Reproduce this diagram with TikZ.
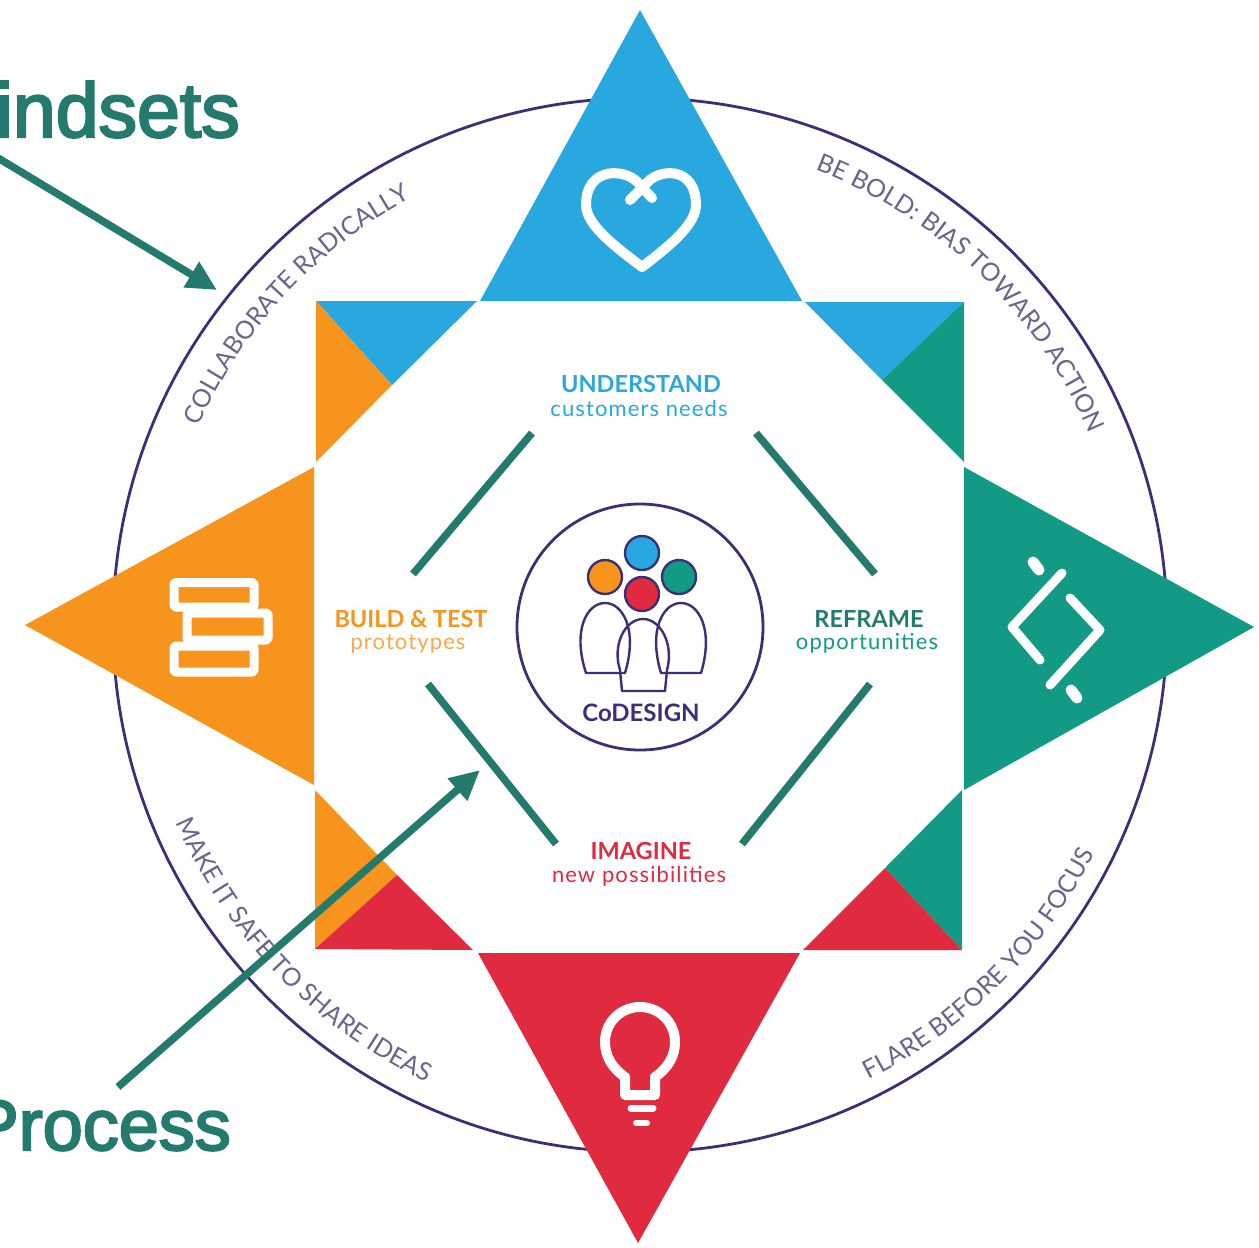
\documentclass[tikz,border=0pt]{standalone}
\usepackage{fontspec}
\usetikzlibrary{arrows.meta,decorations.text}
\setmainfont{Lato}
\newfontfamily\headfont[FakeBold=3]{Liberation Sans}
\newfontfamily\subfont[LetterSpace=5]{Lato}
\definecolor{cblue}{HTML}{29A8E0}
\definecolor{corange}{HTML}{F7941D}
\definecolor{cgreen}{HTML}{139A84}
\definecolor{cred}{HTML}{DF2A3F}
\definecolor{cnavy}{HTML}{3B3078}
\definecolor{cteal}{HTML}{237A6D}
\definecolor{carc}{HTML}{6A648F}
\newcommand{\arcfont}{\fontsize{25}{25}\selectfont\color{carc}}
\tikzset{
  x=1pt,y=-1pt,
  head/.style={text=cteal,font=\headfont\fontsize{77}{77}\selectfont,inner sep=0pt},
  titlelab/.style={font=\bfseries\fontsize{23.5}{23.5}\selectfont,inner sep=0pt},
  sublab/.style={font=\subfont\fontsize{22}{22}\selectfont,inner sep=0pt},
  barline/.style={cteal,line width=7.5pt},
  callout/.style={cteal,line width=7.5pt,-{Triangle[length=30pt,width=28pt]}},
  iconline/.style={white,line width=9pt,line cap=round,line join=round},
  personline/.style={cnavy,line width=2.4pt,line join=round},
  dot/.style={draw=cnavy,line width=2.4pt},
  arctext/.style={decorate,decoration={text along path,text align=center,text={#1}}}
}
\begin{document}
\begin{tikzpicture}
\useasboundingbox (0,0) rectangle (1259,1248);
\fill[white] (0,0) rectangle (1259,1248);
% outer ring
\draw[cnavy,line width=2.8pt] (640,625) circle (527);
% arc texts
\path[arctext={|\arcfont|COLLABORATE RADICALLY}] ([shift={(-175:484)}]640,625) arc[start angle=-175,end angle=-99,radius=484];
\path[arctext={|\arcfont|BE BOLD: BIAS TOWARD ACTION}] ([shift={(-90:488)}]640,625) arc[start angle=-90,end angle=-2,radius=488];
\path[arctext={|\arcfont|MAKE IT SAFE TO SHARE IDEAS}] ([shift={(-180:504)}]640,625) arc[start angle=-180,end angle=-268,radius=504];
\path[arctext={|\arcfont|FLARE BEFORE YOU FOCUS}] ([shift={(83:509)}]640,625) arc[start angle=83,end angle=7,radius=509];
% triangles
\fill[cblue] (640,10) -- (802,301) -- (480,301) -- cycle;
\fill[cgreen] (964,467) -- (1254,627) -- (964,790) -- cycle;
\fill[corange] (314,467) -- (25,625) -- (314,785) -- cycle;
\fill[cred] (478,953) -- (800,953) -- (638,1243) -- cycle;
% corners
\fill[cblue] (316,301) -- (477,301) -- (392,385) -- cycle;
\fill[corange] (316,301) -- (392,385) -- (316,462) -- cycle;
\fill[cblue] (805,302) -- (964,302) -- (882,380) -- cycle;
\fill[cgreen] (964,302) -- (964,462) -- (882,380) -- cycle;
\fill[corange] (315,790) -- (397,875) -- (315,949) -- cycle;
\fill[cred] (315,949) -- (397,875) -- (473,950) -- cycle;
\fill[cgreen] (962,790) -- (885,868) -- (962,950) -- cycle;
\fill[cred] (803,950) -- (885,868) -- (962,950) -- cycle;
% heart
\draw[iconline,line width=10pt] (652,198) -- (640,185) .. controls (628,168) and (586,165) .. (586,205) .. controls (586,226) and (620,250) .. (642,267);
\draw[iconline,line width=10pt] (630,200) -- (645,185) .. controls (657,168) and (696,165) .. (696,205) .. controls (696,226) and (664,250) .. (642,267);
% chevrons
\draw[iconline] (1062,573) -- (1012,627) -- (1040,660);
\draw[iconline] (1070,598) -- (1100,630) -- (1050,685);
\draw[iconline,line width=11pt] (1033,562) -- (1039,570);
\draw[iconline,line width=11pt] (1071,690) -- (1077,698);
% stacked bricks
\draw[iconline,line cap=butt,rounded corners=2pt] (174,582.5) rectangle (254,607);
\draw[iconline,line cap=butt,rounded corners=2pt] (174,646) rectangle (254,672);
\draw[iconline,line cap=butt,rounded corners=2pt] (187,613) rectangle (268,640);
% bulb
\draw[iconline,line width=10pt,line cap=butt] (625,1095) -- (625,1077) .. controls (612,1068) and (605,1056) .. (605,1042) .. controls (605,1022) and (621,1007) .. (640,1007) .. controls (659,1007) and (675,1022) .. (675,1042) .. controls (675,1056) and (668,1068) .. (655,1077) -- (655,1095) -- cycle;
\draw[iconline,line width=7pt] (631,1108) -- (653,1108);
\draw[iconline,line width=6pt] (636,1123) -- (647,1123);
% centre emblem
\draw[cnavy,line width=2.8pt] (640,627) circle (123);
\filldraw[dot,fill=cblue] (642,553) circle (17);
\filldraw[dot,fill=corange] (605,577) circle (17);
\filldraw[dot,fill=cgreen] (679,577) circle (17);
\filldraw[dot,fill=cred] (642,594) circle (17);
\draw[personline] (586,673) .. controls (572,630) and (587,603) .. (605,603) .. controls (623,603) and (638,630) .. (625,673) -- cycle;
\draw[personline] (661,673) .. controls (648,630) and (663,603) .. (681,603) .. controls (699,603) and (714,630) .. (701,673) -- cycle;
\draw[personline] (622,691) -- (620,670) .. controls (612,645) and (625,619) .. (643,619) .. controls (661,619) and (674,645) .. (667,670) -- (665,691) -- cycle;
\node[text=cnavy,font=\bfseries\fontsize{24}{24}\selectfont,inner sep=0pt] (codesign) at (641,713) {CoDESIGN};
% step labels
\node[titlelab,text=cblue] (understand) at (641,384) {UNDERSTAND};
\node[sublab,text=cblue] (understandsub) at (639,408) {customers needs};
\node[titlelab,text=corange] (build) at (411,619) {BUILD \& TEST};
\node[sublab,text=corange!80] (buildsub) at (408,644) {prototypes};
\node[titlelab,text=cteal] (reframe) at (869,619) {REFRAME};
\node[sublab,text=cgreen] (reframesub) at (867,643) {opportunities};
\node[titlelab,text=cred] (imagine) at (641,851) {IMAGINE};
\node[sublab,text=cred] (imaginesub) at (639,876) {new possibilities};
% bars
\coordinate (b1a) at (532,433); \coordinate (b1b) at (413,574);
\coordinate (b2a) at (756,433); \coordinate (b2b) at (875,574);
\coordinate (b3a) at (428,684); \coordinate (b3b) at (556,844);
\coordinate (b4a) at (870,684); \coordinate (b4b) at (742,844);
\draw[barline] (b1a) -- (b1b);
\draw[barline] (b2a) -- (b2b);
\draw[barline] (b3a) -- (b3b);
\draw[barline] (b4a) -- (b4b);
% headings and callouts
\node[head,anchor=base east] (mindsets) at (240,137) {indsets};
\node[head,anchor=base east,font=\headfont\fontsize{72}{72}\selectfont] (process) at (231,1150) {Process};
\coordinate (m1) at (-2,158); \coordinate (m2) at (217,290);
\coordinate (p1) at (118,1087); \coordinate (p2) at (480,770);
\draw[callout] (m1) -- (m2);
\draw[callout] (p1) -- (p2);
\end{tikzpicture}
\end{document}
